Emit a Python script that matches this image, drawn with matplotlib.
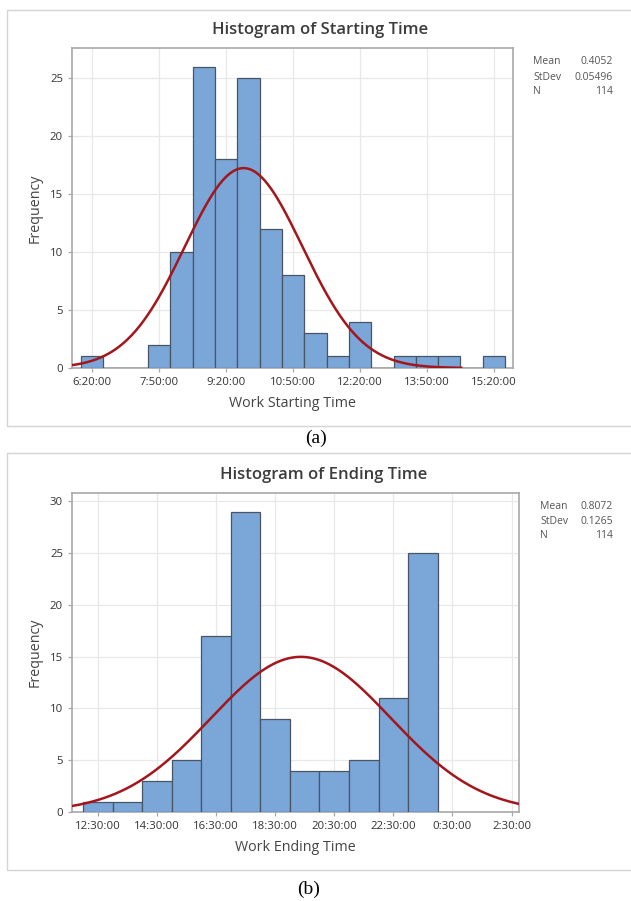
import numpy as np
import matplotlib.pyplot as plt
from matplotlib.patches import Rectangle

# ---- data ----
start_bins = ["6:20", "6:50", "7:20", "7:50", "8:20", "8:50", "9:20", "9:50", "10:20",
              "10:50", "11:20", "11:50", "12:20", "12:50", "13:20", "13:50", "14:20",
              "14:50", "15:20"]
start_counts = [1, 0, 0, 2, 10, 26, 18, 25, 12, 8, 3, 1, 4, 0, 1, 1, 1, 0, 1]
start_ticks = ["6:20:00", "7:50:00", "9:20:00", "10:50:00", "12:20:00", "13:50:00", "15:20:00"]
start_mean, start_sd, start_n = 0.4052, 0.05496, 114

end_bins = ["12:30", "13:30", "14:30", "15:30", "16:30", "17:30", "18:30", "19:30",
            "20:30", "21:30", "22:30", "23:30"]
end_counts = [1, 1, 3, 5, 17, 29, 9, 4, 4, 5, 11, 25]
end_ticks = ["12:30:00", "14:30:00", "16:30:00", "18:30:00", "20:30:00", "22:30:00",
             "0:30:00", "2:30:00"]
end_mean, end_sd, end_n = 0.8072, 0.1265, 114


def to_hours(s, after=0):
    parts = [int(p) for p in s.split(":")]
    h = parts[0] + parts[1] / 60
    if h < after:
        h += 24
    return h


W, H = 631, 901
plt.rcParams['font.family'] = ['Open Sans', 'DejaVu Sans']
fig = plt.figure(figsize=(W / 100, H / 100), dpi=100)
fig.patch.set_facecolor("white")


def fx(x):
    return x / W


def fy(y):
    return 1 - y / H


BAR = "#7BA6D8"
EDGE = "#4A5563"
CURVE = "#A3161C"
TXT = "#333333"


def panel(top, bottom, left, right, bins, counts, ticks, mean, sd, n, bw,
          xlim, ylim, yticks, curve_end, title, xlabel, after, box, stats_x, stats_y, cap, cap_xy):
    # outer frame around the whole panel
    fig.patches.append(Rectangle((fx(7), fy(box[1])), fx(640 - 7), (box[1] - box[0]) / H,
                                 transform=fig.transFigure, fill=False,
                                 edgecolor="#d4d4d4", lw=1.0))
    ax = fig.add_axes([fx(left), fy(bottom), fx(right - left), (bottom - top) / H])
    centers = np.array([to_hours(b, after) for b in bins])
    ax.bar(centers, counts, width=bw, color=BAR, edgecolor=EDGE, linewidth=0.9, zorder=3)
    xs = np.linspace(xlim[0], curve_end, 400)
    mu, s = mean * 24, sd * 24
    ys = n * bw / (s * np.sqrt(2 * np.pi)) * np.exp(-0.5 * ((xs - mu) / s) ** 2)
    ax.plot(xs, ys, color=CURVE, lw=1.8, zorder=4)
    ax.set_xlim(*xlim)
    ax.set_ylim(*ylim)
    tick_pos = [to_hours(t[:-3], after) for t in ticks]
    ax.set_xticks(tick_pos)
    ax.set_xticklabels(ticks)
    ax.set_yticks(yticks)
    ax.grid(True, color="#e8e8e8", lw=0.9, zorder=0)
    ax.set_axisbelow(True)
    for sp in ax.spines.values():
        sp.set_color("#a8a8a8")
        sp.set_linewidth(1.2)
    ax.tick_params(colors="#a8a8a8", labelcolor=TXT, labelsize=8.2, length=3, width=0.9)
    for lab in ax.get_xticklabels() + ax.get_yticklabels():
        lab.set_fontweight("medium")
    ax.set_xlabel(xlabel, fontsize=10.3, color="#444444", labelpad=6, fontweight="medium")
    ax.set_ylabel("Frequency", fontsize=10.3, color="#444444", labelpad=5, fontweight="medium")
    fig.text(fx((left + right) / 2 + 28), fy(top - 18), title, ha="center", va="center",
             fontsize=12, fontweight="semibold", color="#3c3c3c")
    labels = ["Mean", "StDev", "N"]
    vals = [f"{mean}", f"{sd}", f"{n}"]
    for i in range(3):
        fig.text(fx(stats_x), fy(stats_y + 15 * i), labels[i], ha="left", va="center",
                 fontsize=7.5, color="#555555")
        fig.text(fx(613), fy(stats_y + 15 * i), vals[i], ha="right", va="center",
                 fontsize=7.5, color="#555555")
    fig.text(fx(cap_xy[0]), fy(cap_xy[1]), cap, ha="center", va="center",
             fontsize=14, family="Liberation Serif", color="black")
    return ax


panel(48, 368, 72, 513, start_bins, start_counts, start_ticks, start_mean, start_sd,
      start_n, 0.5, (5.88, 15.76), (0, 27.6), [0, 5, 10, 15, 20, 25], 14.6,
      "Histogram of Starting Time", "Work Starting Time", 0, (10, 426), 533, 62,
      "(a)", (316, 438))

panel(493, 812, 72, 519, end_bins, end_counts, end_ticks, end_mean, end_sd,
      end_n, 1.0, (11.63, 26.75), (0, 30.8), [0, 5, 10, 15, 20, 25, 30], 26.75,
      "Histogram of Ending Time", "Work Ending Time", 6, (453, 870), 540, 506,
      "(b)", (309, 889))

fig.savefig("out.png", dpi=100)
